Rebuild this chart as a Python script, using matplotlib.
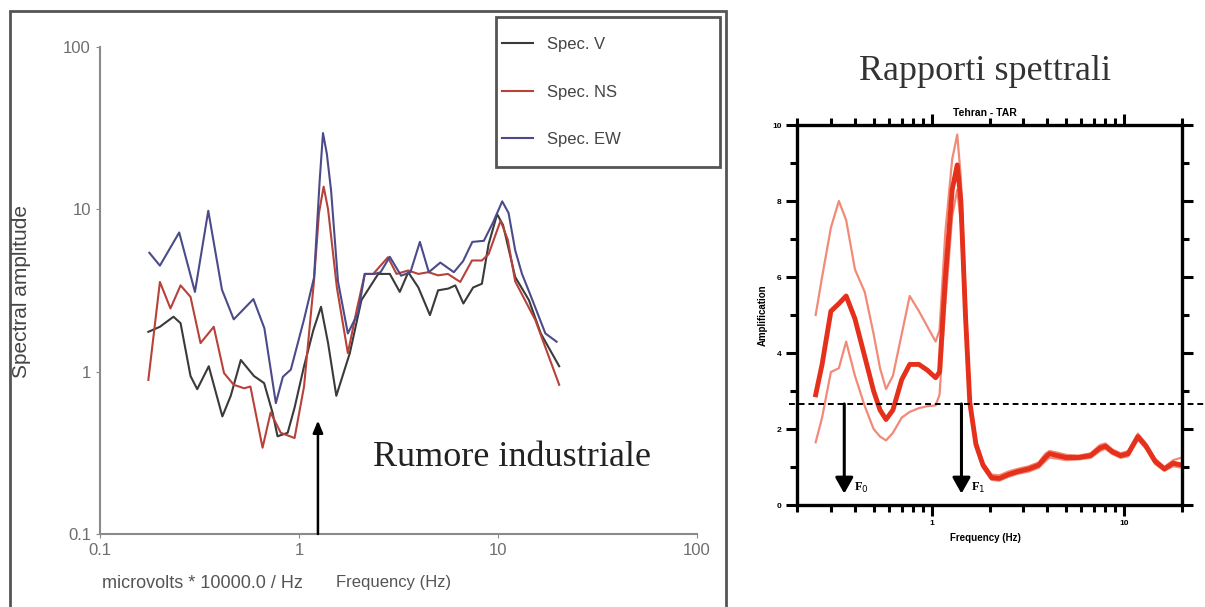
import matplotlib
matplotlib.use('Agg')
import matplotlib.pyplot as plt
from matplotlib.patches import Rectangle
from matplotlib.ticker import LogLocator, NullFormatter, NullLocator, MultipleLocator

plt.rcParams['font.family'] = ['Liberation Sans', 'DejaVu Sans']

# --- left panel: spectra (log-log) ---
f_v = [0.175, 0.20, 0.234, 0.254, 0.285, 0.308, 0.352, 0.412, 0.454, 0.51, 0.594, 0.668, 0.736,
       0.78, 0.877, 0.95, 1.06, 1.18, 1.29, 1.40, 1.54, 1.8, 2.06, 2.5, 2.86, 3.21, 3.54, 3.98,
       4.55, 5.0, 5.63, 6.1, 6.7, 7.5, 8.3, 8.97, 9.9, 10.6, 12.2, 14.3, 16.4, 20.3]
a_v = [1.76, 1.89, 2.18, 1.99, 0.94, 0.78, 1.08, 0.53, 0.71, 1.18, 0.94, 0.85, 0.56,
       0.40, 0.42, 0.6, 1.08, 1.8, 2.51, 1.5, 0.71, 1.3, 2.76, 4.0, 4.0, 3.1, 4.1, 3.3,
       2.23, 3.17, 3.25, 3.4, 2.63, 3.3, 3.48, 6.1, 9.34, 8.0, 3.83, 2.76, 1.72, 1.08]

f_ns = [0.175, 0.20, 0.226, 0.254, 0.285, 0.32, 0.373, 0.42, 0.47, 0.53, 0.57, 0.656, 0.72,
        0.81, 0.95, 1.06, 1.19, 1.26, 1.33, 1.40, 1.55, 1.76, 1.95, 2.14, 2.36, 2.8, 3.09, 3.54,
        3.98, 4.47, 5.0, 5.6, 6.46, 7.4, 8.3, 8.97, 10.3, 11.2, 12.2, 15.4, 20.3]
a_ns = [0.89, 3.57, 2.45, 3.4, 2.89, 1.5, 1.89, 0.98, 0.83, 0.79, 0.81, 0.34, 0.56,
        0.42, 0.39, 0.81, 3.65, 9.5, 13.8, 10.0, 3.3, 1.3, 2.4, 4.0, 4.0, 5.07, 4.0, 4.2,
        4.0, 4.1, 3.92, 4.0, 3.57, 4.84, 4.84, 5.3, 8.5, 6.5, 3.6, 2.08, 0.83]

f_ew = [0.177, 0.20, 0.25, 0.30, 0.35, 0.41, 0.47, 0.59, 0.67, 0.765, 0.83, 0.91, 1.06, 1.19,
        1.27, 1.32, 1.38, 1.45, 1.57, 1.76, 1.98, 2.14, 2.4, 2.57, 2.86, 3.26, 3.63, 4.05, 4.49,
        5.13, 6.0, 6.68, 7.43, 8.49, 9.44, 10.5, 11.3, 12.2, 13.2, 14.5, 16.0, 17.3, 19.7]
a_ew = [5.4, 4.5, 7.2, 3.1, 9.8, 3.2, 2.1, 2.8, 1.85, 0.64, 0.93, 1.03, 2.1, 3.8,
        15.0, 29.5, 22.0, 13.0, 3.6, 1.72, 2.3, 4.0, 4.0, 4.1, 5.1, 3.9, 4.1, 6.3, 4.1,
        4.7, 4.1, 4.8, 6.3, 6.4, 8.3, 11.2, 9.5, 5.6, 4.0, 3.0, 2.2, 1.72, 1.53]

spec_labels = ['Spec. V', 'Spec. NS', 'Spec. EW']
spec_colors = ['#3a3a3a', '#b8413a', '#4b4b8a']
log_ticks = [0.1, 1, 10, 100]
log_labels = ['0.1', '1', '10', '100']

# --- right panel: spectral ratios ---
f_r = [0.25, 0.27, 0.30, 0.33, 0.36, 0.40, 0.45, 0.50, 0.54, 0.58, 0.63, 0.70, 0.77, 0.86,
       0.95, 1.05, 1.10, 1.18, 1.28, 1.36, 1.42, 1.50, 1.58, 1.70, 1.85, 2.05, 2.25, 2.5,
       2.8, 3.2, 3.6, 3.9, 4.1, 4.5, 5.0, 5.8, 6.7, 7.5, 8.0, 8.7, 9.6, 10.5, 11.8, 13.0,
       14.5, 16.2, 18.0, 20.0]
r_mean = [2.9, 3.7, 5.1, 5.3, 5.5, 4.9, 3.9, 3.0, 2.5, 2.25, 2.5, 3.3, 3.7, 3.7,
          3.55, 3.35, 3.5, 6.0, 8.3, 8.95, 8.0, 5.0, 2.7, 1.6, 1.05, 0.72, 0.7, 0.8,
          0.88, 0.95, 1.05, 1.25, 1.35, 1.3, 1.25, 1.25, 1.3, 1.5, 1.55, 1.4, 1.3, 1.35, 1.8, 1.55,
          1.15, 0.95, 1.1, 1.05]
r_upper = [5.0, 6.0, 7.3, 8.0, 7.5, 6.2, 5.6, 4.5, 3.6, 3.05, 3.4, 4.5, 5.5, 5.1,
           4.7, 4.3, 4.6, 7.2, 9.1, 9.75, 8.6, 5.6, 2.85, 1.7, 1.12, 0.8, 0.78, 0.88,
           0.95, 1.02, 1.12, 1.35, 1.42, 1.38, 1.32, 1.3, 1.36, 1.58, 1.62, 1.46, 1.36, 1.42, 1.88, 1.62,
           1.22, 1.0, 1.18, 1.25]
r_lower = [1.65, 2.3, 3.5, 3.6, 4.3, 3.4, 2.6, 2.0, 1.8, 1.7, 1.9, 2.3, 2.45, 2.55,
           2.6, 2.62, 2.9, 5.3, 7.6, 8.3, 7.4, 4.6, 2.55, 1.5, 0.98, 0.66, 0.64, 0.74,
           0.82, 0.88, 0.98, 1.15, 1.25, 1.22, 1.18, 1.2, 1.24, 1.42, 1.48, 1.34, 1.24, 1.28, 1.72, 1.48,
           1.08, 0.9, 1.02, 0.98]
threshold = 2.66
f0, f1 = 0.352, 1.43

fig = plt.figure(figsize=(12.05, 6.07), dpi=100)
W, H = 1205, 607

# frame round the left chart
fig.patches.append(Rectangle((10 / W, -0.02), 716 / W, 1.0018, transform=fig.transFigure,
                             fill=False, edgecolor='#555555', lw=2))
# legend box (outline only)
fig.patches.append(Rectangle((496 / W, 1 - 167 / H), 224 / W, 150 / H, transform=fig.transFigure,
                             fill=False, edgecolor='#555555', lw=2))

ax1 = fig.add_axes([100 / W, 73 / H, 597 / W, 487 / H])
ax1.patch.set_alpha(0)
ax1.set_xscale('log')
ax1.set_yscale('log')
for fx, ay, col, lab in zip([f_v, f_ns, f_ew], [a_v, a_ns, a_ew], spec_colors, spec_labels):
    ax1.plot(fx, ay, color=col, lw=1.5, label=lab)
ax1.set_xlim(0.1, 100)
ax1.set_ylim(0.1, 100)
for s in ['top', 'right']:
    ax1.spines[s].set_visible(False)
for s in ['left', 'bottom']:
    ax1.spines[s].set_color('#8a8a8a')
    ax1.spines[s].set_linewidth(1.5)
ax1.set_xticks(log_ticks)
ax1.set_xticklabels(log_labels)
ax1.set_yticks(log_ticks)
ax1.set_yticklabels(log_labels)
ax1.xaxis.set_minor_locator(NullLocator())
ax1.yaxis.set_minor_locator(NullLocator())
ax1.tick_params(labelsize=12, labelcolor='#6e6e6e', color='#8a8a8a', length=3)

ax1.annotate('', xy=(1.245, 0.5), xytext=(1.245, 0.1),
             arrowprops=dict(arrowstyle='-|>,head_length=0.6,head_width=0.25',
                             lw=1.8, color='black', mutation_scale=12, shrinkA=0, shrinkB=0))

leg = ax1.legend(loc='upper left', bbox_to_anchor=(502 / W, 1 - 37 / H),
                 bbox_transform=fig.transFigure, fontsize=12, frameon=False,
                 labelspacing=1.95, handlelength=1.85, handletextpad=0.85,
                 borderpad=0, borderaxespad=0)
for t in leg.get_texts():
    t.set_color('#444444')

fig.text(22 / W, 1 - 292 / H, 'Spectral amplitude', rotation=90, ha='center', va='center',
         fontsize=15, color='#444444')
fig.text(102 / W, 1 - 583 / H, 'microvolts * 10000.0 / Hz', ha='left', va='center',
         fontsize=13, color='#555555')
fig.text(336 / W, 1 - 583 / H, 'Frequency (Hz)', ha='left', va='center',
         fontsize=12, color='#555555')
fig.text(373 / W, 1 - 458 / H, 'Rumore industriale', ha='left', va='center',
         fontsize=26, family='Liberation Serif', color='#222222')

# --- right panel ---
ax2 = fig.add_axes([797 / W, 102 / H, 385 / W, 380 / H])
ax2.set_xscale('log')
ax2.plot(f_r, r_upper, color='#f28a78', lw=1.6)
ax2.plot(f_r, r_lower, color='#f28a78', lw=1.6)
ax2.plot(f_r, r_mean, color='#e5301c', lw=3.5)
ax2.set_xlim(0.2, 20)
ax2.set_ylim(0, 10)
ax2.axhline(threshold, xmin=-0.02, xmax=1.07, color='black', lw=1.4,
            linestyle=(0, (3, 2)), clip_on=False)
for fa, lab in [(f0, 'F$_0$'), (f1, 'F$_1$')]:
    ax2.annotate('', xy=(fa, 0.3), xytext=(fa, threshold),
                 arrowprops=dict(arrowstyle='-|>,head_length=0.8,head_width=0.45',
                                 lw=2.2, color='black', mutation_scale=12, shrinkA=0, shrinkB=0))
    ax2.text(fa * 1.12, 0.45, lab, fontsize=9, family='Liberation Serif', fontweight='bold',
             ha='left', va='center')

for s in ax2.spines.values():
    s.set_linewidth(2.4)
ax2.set_xticks([1, 10])
ax2.set_xticklabels(['1', '10'])
ax2.xaxis.set_minor_locator(LogLocator(base=10, subs=range(2, 10)))
ax2.xaxis.set_minor_formatter(NullFormatter())
ax2.yaxis.set_major_locator(MultipleLocator(2))
ax2.yaxis.set_minor_locator(MultipleLocator(1))
ax2.tick_params(which='both', direction='out', top=True, right=True, width=2.2,
                labelsize=6, pad=3)
ax2.tick_params(which='major', length=8)
ax2.tick_params(which='minor', length=5)
for lab in ax2.get_xticklabels() + ax2.get_yticklabels():
    lab.set_fontweight('bold')

fig.text(985 / W, 1 - 72 / H, 'Rapporti spettrali', ha='center', va='center',
         fontsize=26, family='Liberation Serif', color='#333333')
fig.text(985 / W, 1 - 113 / H, 'Tehran - TAR', ha='center', va='center',
         fontsize=7.5, fontweight='bold')
fig.text(763 / W, 1 - 315 / H, 'Amplification', rotation=90, ha='center', va='center',
         fontsize=7, fontweight='bold')
fig.text(985 / W, 1 - 538 / H, 'Frequency (Hz)', ha='center', va='center',
         fontsize=7, fontweight='bold')

fig.savefig('out.png', dpi=100)
